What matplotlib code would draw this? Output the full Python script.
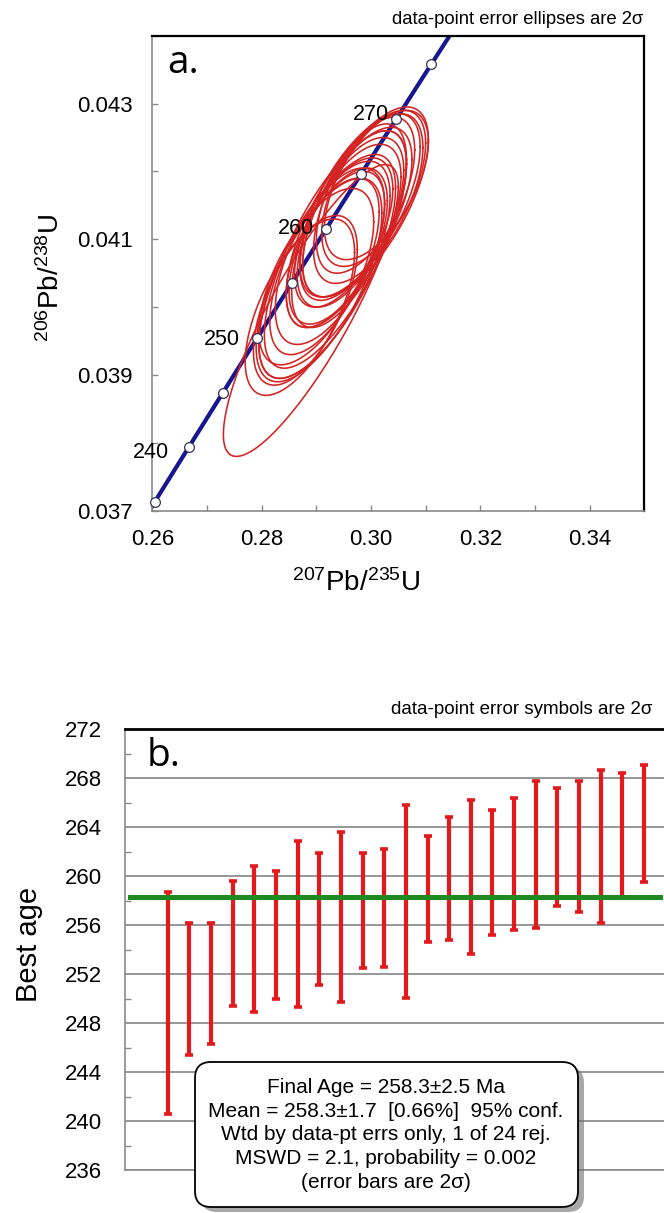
import numpy as np
import matplotlib
matplotlib.use("Agg")
import matplotlib.pyplot as plt
from matplotlib.patches import FancyBboxPatch
from matplotlib.ticker import MultipleLocator, FixedLocator, FormatStrFormatter

plt.rcParams['font.family'] = ['Liberation Sans', 'DejaVu Sans']
plt.rcParams['mathtext.fontset'] = 'custom'
plt.rcParams['mathtext.rm'] = 'Liberation Sans'
plt.rcParams['mathtext.it'] = 'Liberation Sans:italic'
plt.rcParams['mathtext.bf'] = 'Liberation Sans:bold'

# ---------------- Panel a data (concordia) ----------------
# 207Pb/235U, 206Pb/238U centres, 2-sigma errors and error correlations
ell_x = [0.2890, 0.2870, 0.2880, 0.2900, 0.2905, 0.2915, 0.2915, 0.2925,
         0.2920, 0.2935, 0.2940, 0.2935, 0.2950, 0.2960, 0.2955, 0.2965,
         0.2975, 0.2980, 0.2990, 0.2995, 0.2990, 0.3005, 0.3010, 0.2960]
ell_y = [0.03995, 0.04000, 0.04010, 0.04045, 0.04040, 0.04060, 0.04055, 0.04075,
         0.04060, 0.04085, 0.04090, 0.04085, 0.04110, 0.04120, 0.04115, 0.04130,
         0.04140, 0.04150, 0.04165, 0.04160, 0.04155, 0.04175, 0.04180, 0.04120]
ell_sx = [0.0160, 0.0100, 0.0095, 0.0105, 0.0115, 0.0100, 0.0120, 0.0100,
          0.0125, 0.0090, 0.0090, 0.0130, 0.0090, 0.0095, 0.0110, 0.0095,
          0.0100, 0.0110, 0.0090, 0.0100, 0.0115, 0.0095, 0.0095, 0.0105]
ell_sy = [0.00215, 0.00130, 0.00125, 0.00130, 0.00150, 0.00130, 0.00160, 0.00130,
          0.00165, 0.00115, 0.00115, 0.00175, 0.00110, 0.00120, 0.00145, 0.00120,
          0.00125, 0.00135, 0.00115, 0.00125, 0.00140, 0.00115, 0.00110, 0.00150]
ell_rho = [0.85, 0.62, 0.60, 0.62, 0.66, 0.62, 0.68, 0.60,
           0.70, 0.58, 0.58, 0.72, 0.58, 0.60, 0.66, 0.60,
           0.62, 0.64, 0.58, 0.60, 0.66, 0.58, 0.58, 0.65]

conc_marker_ages = [235, 240, 245, 250, 255, 260, 265, 270, 275]
conc_label_ages = [240, 250, 260, 270]
LAMBDA238 = 1.55125e-4   # 1/Ma
LAMBDA235 = 9.8485e-4    # 1/Ma

xticks_a = [0.26, 0.28, 0.30, 0.32, 0.34]
yticks_a = [0.037, 0.039, 0.041, 0.043]

# ---------------- Panel b data (weighted mean) ----------------
age_low = [240.6, 245.4, 246.3, 249.4, 248.9, 250.0, 249.3, 251.1, 249.7, 252.5,
           252.6, 250.05, 254.6, 254.8, 253.65, 255.2, 255.6, 255.8, 257.6, 257.1,
           256.2, 258.2, 259.5]
age_high = [258.7, 256.2, 256.2, 259.6, 260.8, 260.4, 262.85, 261.9, 263.6, 261.9,
            262.2, 265.8, 263.3, 264.85, 266.2, 265.4, 266.35, 267.8, 267.2, 267.8,
            268.7, 268.4, 269.1]
mean_age = 258.3
yticks_b = [236, 240, 244, 248, 252, 256, 260, 264, 268, 272]
box_lines = ["Final Age = 258.3\u00b12.5 Ma",
             "Mean = 258.3\u00b11.7  [0.66%]  95% conf.",
             "Wtd by data-pt errs only, 1 of 24 rej.",
             "MSWD = 2.1, probability = 0.002",
             "(error bars are 2\u03c3)"]

# ---------------- figure ----------------
W, H = 664, 1213
fig = plt.figure(figsize=(W / 100, H / 100), dpi=100)

GRAY = '#8a8a8a'
ELL_RED = '#d42323'
BAR_RED = '#e3191c'
NAVY = '#16168f'
GREEN = '#1f8a1f'

# ----- panel a -----
ax = fig.add_axes([152.3 / W, 1 - 510.7 / H, (644.3 - 152.3) / W, (510.7 - 35.7) / H])
ax.set_xlim(0.26, 0.35)
ax.set_ylim(0.037, 0.044)

ages = np.linspace(220, 300, 400)
ax.plot(np.exp(LAMBDA235 * ages) - 1, np.exp(LAMBDA238 * ages) - 1,
        color=NAVY, lw=3.0, zorder=2, solid_capstyle='butt')

tt = np.linspace(0, 2 * np.pi, 240)
for xc, yc, sx, sy, r in zip(ell_x, ell_y, ell_sx, ell_sy, ell_rho):
    ex = xc + sx * np.cos(tt)
    ey = yc + sy * (r * np.cos(tt) + np.sqrt(1 - r * r) * np.sin(tt))
    ax.plot(ex, ey, color=ELL_RED, lw=1.15, zorder=3)

ma = np.array(conc_marker_ages, dtype=float)
ax.plot(np.exp(LAMBDA235 * ma) - 1, np.exp(LAMBDA238 * ma) - 1, 'o',
        ms=7, mfc='white', mec='#333355', mew=0.9, zorder=4, clip_on=False)
label_offsets = {240: (-14, -3.4), 250: (-12.5, -1), 260: (-8.6, 0), 270: (-5.5, 3)}
for a in conc_label_ages:
    ax.annotate(str(a), (np.exp(LAMBDA235 * a) - 1, np.exp(LAMBDA238 * a) - 1),
                xytext=label_offsets[a], textcoords='offset points',
                ha='right', va='center', fontsize=15.5, zorder=5)

ax.xaxis.set_major_locator(FixedLocator(xticks_a))
ax.xaxis.set_minor_locator(MultipleLocator(0.01))
ax.yaxis.set_major_locator(FixedLocator(yticks_a))
ax.yaxis.set_minor_locator(MultipleLocator(0.001))
ax.xaxis.set_major_formatter(FormatStrFormatter('%.2f'))
ax.yaxis.set_major_formatter(FormatStrFormatter('%.3f'))
ax.tick_params(which='both', direction='in', length=4, width=1, color=GRAY,
               labelsize=16, top=False, right=False)
ax.tick_params(axis='y', which='both', pad=14)
ax.tick_params(axis='x', which='both', pad=13)
for s in ['left', 'bottom']:
    ax.spines[s].set_color(GRAY)
    ax.spines[s].set_linewidth(1.2)
for s in ['top', 'right']:
    ax.spines[s].set_color('black')
    ax.spines[s].set_linewidth(1.6)

fig.text(51 / W, 1 - 278 / H, r'$\mathregular{^{206}Pb/^{238}U}$', rotation=90,
         ha='center', va='center', fontsize=20)
fig.text(356 / W, 1 - 583 / H, r'$\mathregular{^{207}Pb/^{235}U}$',
         ha='center', va='center', fontsize=20)
fig.text(643 / W, 1 - 20 / H, 'data-point error ellipses are 2\u03c3',
         ha='right', va='center', fontsize=13.3)
fig.text(167 / W, 1 - 63 / H, 'a.', ha='left', va='center', fontsize=28,
         family=['Open Sans', 'DejaVu Sans'])

# ----- panel b -----
bx = fig.add_axes([125 / W, 1 - 1170 / H, (W - 125) / W, (1170 - 729.3) / H])
xpos = np.arange(1, len(age_low) + 1)
bx.set_xlim(-0.97, 23.92)
bx.set_ylim(236, 272)
lo = np.array(age_low)
hi = np.array(age_high)
bx.errorbar(xpos, (lo + hi) / 2, yerr=(hi - lo) / 2, fmt='none', ecolor=BAR_RED,
            elinewidth=3.0, capsize=3.0, capthick=2.6, zorder=3)
bx.axhline(mean_age, xmin=5 / 539, xmax=535 / 539, color=GREEN, lw=3.6, zorder=4)

bx.yaxis.set_major_locator(FixedLocator(yticks_b))
bx.yaxis.set_minor_locator(MultipleLocator(2))
bx.set_xticks([])
bx.yaxis.grid(True, which='major', color='#8f8f8f', lw=1.3)
bx.set_axisbelow(True)
bx.tick_params(axis='y', which='major', length=0, labelsize=16, pad=16.5)
bx.tick_params(axis='y', which='minor', direction='in', length=4, width=1, color=GRAY)
for s in ['left', 'bottom']:
    bx.spines[s].set_color(GRAY)
    bx.spines[s].set_linewidth(1.2)
bx.spines['right'].set_visible(False)
bx.spines['top'].set_color('black')
bx.spines['top'].set_linewidth(2.0)

fig.text(29 / W, 1 - 944 / H, 'Best age', rotation=90, ha='center', va='center',
         fontsize=21)
fig.text(652 / W, 1 - 710 / H, 'data-point error symbols are 2\u03c3',
         ha='right', va='center', fontsize=13.5)
fig.text(147 / W, 1 - 756 / H, 'b.', ha='left', va='center', fontsize=28,
         family=['Open Sans', 'DejaVu Sans'])

# summary box with shadow (inches coordinates)
bx0, bx1 = 195 / 100, 578 / 100
by0, by1 = (H - 1207) / 100, (H - 1062) / 100
shadow = FancyBboxPatch((bx0 + 0.06, by0 - 0.05), bx1 - bx0, by1 - by0,
                        boxstyle='round,pad=0,rounding_size=0.16',
                        transform=fig.dpi_scale_trans, facecolor='#6e6e6e',
                        edgecolor='none', alpha=0.6, zorder=5)
fig.add_artist(shadow)
box = FancyBboxPatch((bx0, by0), bx1 - bx0, by1 - by0,
                     boxstyle='round,pad=0,rounding_size=0.16',
                     transform=fig.dpi_scale_trans, facecolor='white',
                     edgecolor='black', lw=1.3, zorder=6)
fig.add_artist(box)
fig.text(386 / W, 1 - 1135 / H, "\n".join(box_lines), ha='center', va='center',
         fontsize=15, linespacing=1.33, zorder=7)

fig.savefig('out.png', dpi=100)
